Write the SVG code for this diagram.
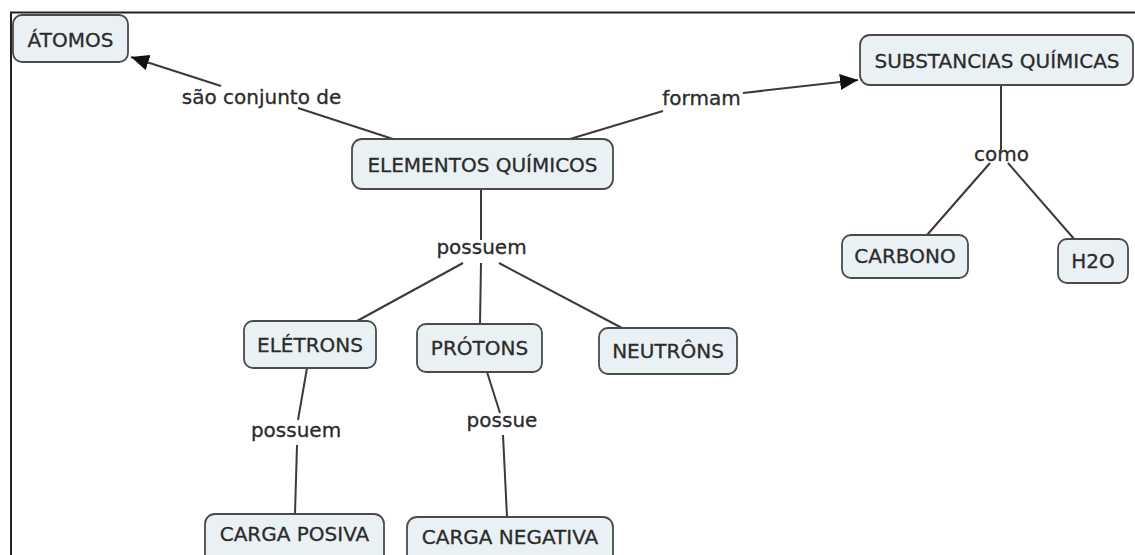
<svg xmlns="http://www.w3.org/2000/svg" width="1135" height="555" viewBox="0 0 1135 555">
<defs>
<style>
.box{fill:#eaf1f4;stroke:#4a4a4a;stroke-width:1.8}
.t{font-family:"DejaVu Sans","Liberation Sans",sans-serif;font-size:20px;fill:#2b2b2b;stroke:#2b2b2b;stroke-width:0.3;text-anchor:middle}
.c{stroke:#3a3a3a;stroke-width:2;fill:none}
</style>
<marker id="arr" markerUnits="userSpaceOnUse" markerWidth="20" markerHeight="16" refX="18" refY="8" orient="auto">
<path d="M0,0 L18,8 L0,16 Z" fill="#111"/>
</marker>
</defs>
<rect x="0" y="0" width="1135" height="555" fill="#fff"/>
<g id="frame">
<line x1="10" y1="12.5" x2="1135" y2="12.5" stroke="#222" stroke-width="2"/>
<line x1="11" y1="12" x2="11" y2="555" stroke="#222" stroke-width="2"/>
</g>
<g id="connectors">
<line class="c" x1="393" y1="139" x2="298" y2="108"/>
<line class="c" x1="221" y1="86" x2="131" y2="57" marker-end="url(#arr)"/>
<line class="c" x1="570" y1="139" x2="663" y2="111"/>
<line class="c" x1="743" y1="93" x2="858" y2="80" marker-end="url(#arr)"/>
<line class="c" x1="481" y1="189" x2="481" y2="240"/>
<line class="c" x1="463" y1="263" x2="357" y2="321"/>
<line class="c" x1="481" y1="263" x2="480" y2="324"/>
<line class="c" x1="499" y1="263" x2="622" y2="328"/>
<line class="c" x1="307" y1="368" x2="298" y2="420"/>
<line class="c" x1="297" y1="445" x2="295" y2="514"/>
<line class="c" x1="487" y1="372" x2="500" y2="413"/>
<line class="c" x1="503" y1="435" x2="507" y2="517"/>
<line class="c" x1="1001" y1="85" x2="1001" y2="150"/>
<line class="c" x1="990" y1="163" x2="927" y2="235"/>
<line class="c" x1="1008" y1="163" x2="1075" y2="240"/>
</g>
<g id="labels">
<text class="t" x="261.5" y="104">são conjunto de</text>
<text class="t" x="701.5" y="105">formam</text>
<text class="t" x="481.5" y="254">possuem</text>
<text class="t" x="296" y="437">possuem</text>
<text class="t" x="502" y="427">possue</text>
<text class="t" x="1001.5" y="161">como</text>
</g>
<g id="atomos"><rect class="box" x="13" y="15" width="115" height="47" rx="9"/><text class="t" x="70.5" y="47">ÁTOMOS</text></g>
<g id="elementos"><rect class="box" x="352" y="139" width="261" height="50" rx="10"/><text class="t" x="482.5" y="172">ELEMENTOS QUÍMICOS</text></g>
<g id="substancias"><rect class="box" x="860" y="35" width="273" height="50" rx="10"/><text class="t" x="997" y="68">SUBSTANCIAS QUÍMICAS</text></g>
<g id="carbono"><rect class="box" x="842" y="235" width="126" height="43" rx="9"/><text class="t" x="905" y="263">CARBONO</text></g>
<g id="h2o"><rect class="box" x="1058" y="239" width="70" height="44" rx="9"/><text class="t" x="1093" y="268">H2O</text></g>
<g id="eletrons"><rect class="box" x="244" y="321" width="132" height="47" rx="9"/><text class="t" x="310" y="352">ELÉTRONS</text></g>
<g id="protons"><rect class="box" x="417" y="324" width="125" height="48" rx="9"/><text class="t" x="479.5" y="355">PRÓTONS</text></g>
<g id="neutrons"><rect class="box" x="599" y="328" width="138" height="46" rx="9"/><text class="t" x="668" y="358">NEUTRÔNS</text></g>
<g id="carga-posiva"><rect class="box" x="205" y="514" width="179" height="56" rx="10"/><text class="t" x="294.5" y="541">CARGA POSIVA</text></g>
<g id="carga-negativa"><rect class="box" x="407" y="517" width="206" height="56" rx="10"/><text class="t" x="510" y="544">CARGA NEGATIVA</text></g>
</svg>
